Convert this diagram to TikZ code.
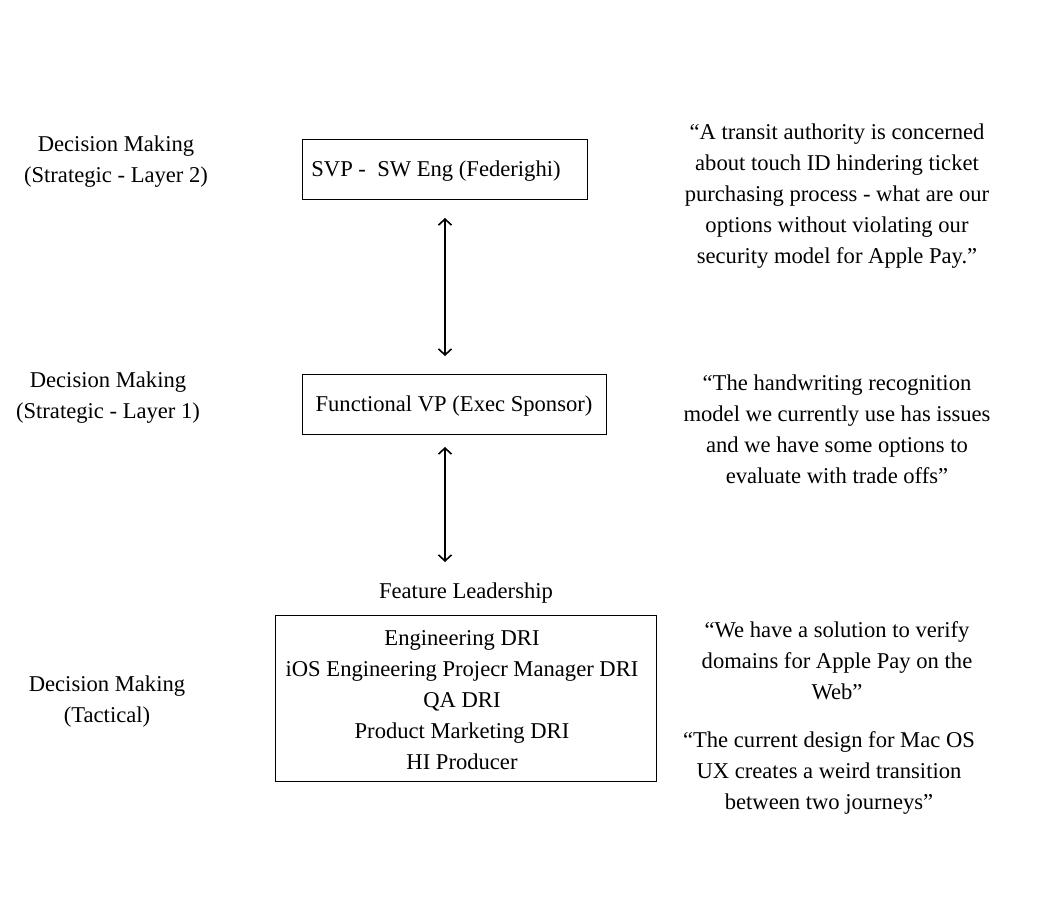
\documentclass[tikz,border=0pt]{standalone}
\usepackage{fontspec}
\setmainfont{Liberation Serif}
\usetikzlibrary{arrows.meta}
\begin{document}
\begin{tikzpicture}[x=1pt,y=-1pt,
  txt/.style={align=center,font=\fontsize{22.6}{31}\selectfont,inner sep=0pt},
  box/.style={draw,line width=1pt},
  link/.style={line width=1.6pt,{Straight Barb[length=6pt,width=13pt]}-{Straight Barb[length=6pt,width=13pt]}}]
\useasboundingbox (0,0) rectangle (1047,900);
% left labels
\node[txt] (l2) at (116,162) {Decision Making\\(Strategic - Layer 2)};
\node[txt] (l1) at (108,398) {Decision Making\\(Strategic - Layer 1)};
\node[txt] (lt) at (107,702) {Decision Making\\(Tactical)};
% boxes
\draw[box] (302,139) rectangle (587,199);
\node[txt] (svp) at (436,171) {SVP -\ \ SW Eng (Federighi)};
\coordinate (svpb) at (445,218);
\draw[box] (302,374) rectangle (606,434);
\node[txt] (fvp) at (454,406) {Functional VP (Exec Sponsor)};
\coordinate (fvpt) at (445,356);
\coordinate (fvpb) at (445,447);
\coordinate (flt) at (445,562);
\node[txt] (fl) at (466,593) {Feature Leadership};
\draw[box] (275,615) rectangle (656,781);
\node[txt] (team) at (462,700) {Engineering DRI\\iOS Engineering Projecr Manager DRI\\QA DRI\\Product Marketing DRI\\HI Producer};
\draw[link] (svpb) -- (fvpt);
\draw[link] (fvpb) -- (flt);
% quotes
\node[txt] (q1) at (837,196) {“A transit authority is concerned\\about touch ID hindering ticket\\purchasing process - what are our\\options without violating our\\security model for Apple Pay.”};
\node[txt] (q2) at (837,429) {“The handwriting recognition\\model we currently use has issues\\and we have some options to\\evaluate with trade offs”};
\node[txt] (q3) at (837,661) {“We have a solution to verify\\domains for Apple Pay on the\\Web”};
\node[txt] (q4) at (829,773) {“The current design for Mac OS\\UX creates a weird transition\\between two journeys”};
\end{tikzpicture}
\end{document}
